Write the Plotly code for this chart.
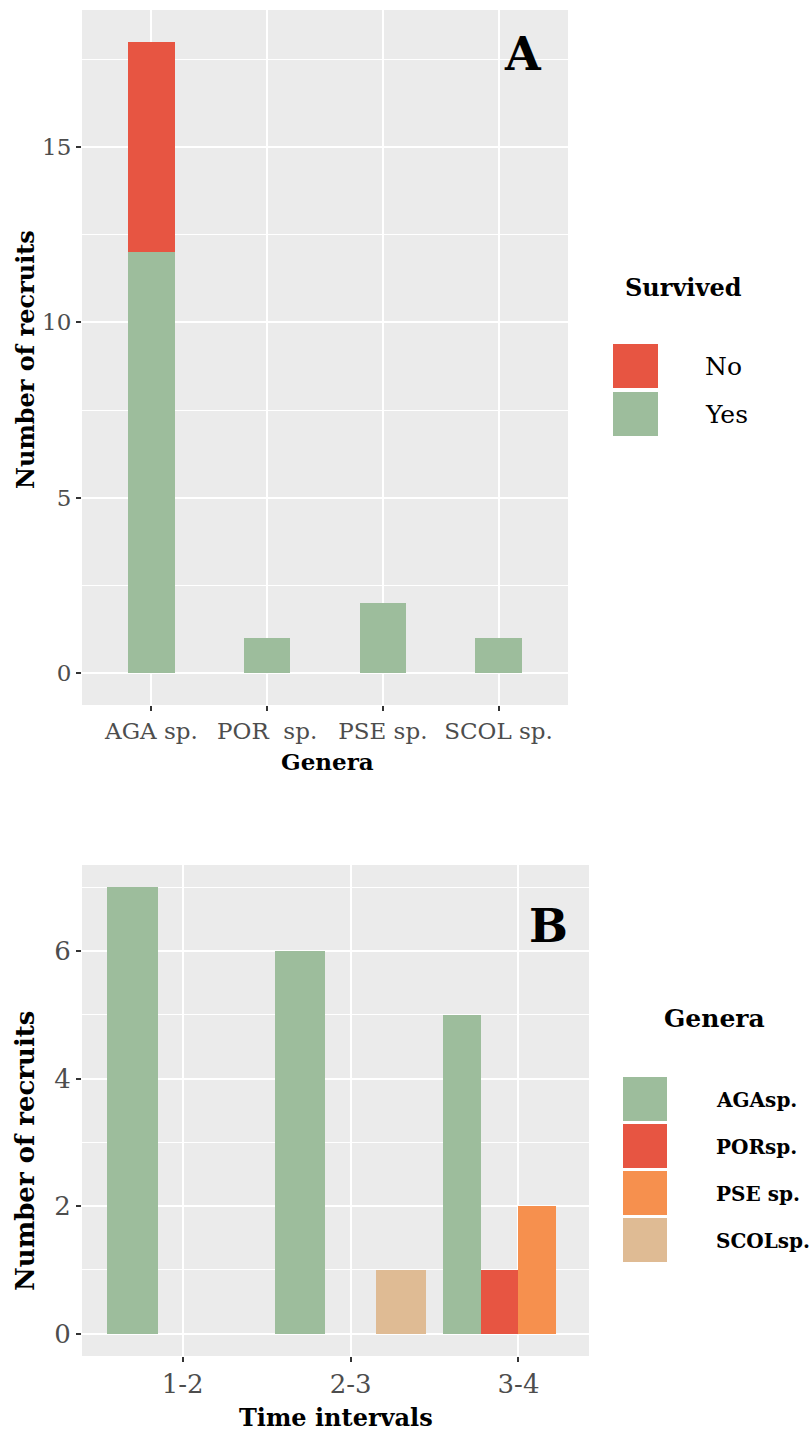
import plotly.graph_objects as go

W, H = 811, 1434

# ---------------- Data ----------------
# Panel A: recruits per genus, split by survival
genera_a = ["AGA sp.", "POR\u00a0 sp.", "PSE sp.", "SCOL sp."]
survived_yes = [12, 1, 2, 1]
survived_no = [6, 0, 0, 0]
survival_labels = ["No", "Yes"]

# Panel B: recruits per time interval and genus (None = no row in data)
intervals = ["1-2", "2-3", "3-4"]
genera_b = ["AGAsp.", "PORsp.", "PSE sp.", "SCOLsp."]
aga_b = [7, 6, 5]
por_b = [0, 0, 1]
pse_b = [0, None, 2]
scol_b = [None, 1, 0]

# ---------------- Style ----------------
GREEN = "#9dbd9c"
RED = "#e75542"
ORANGE = "#f6904e"
TAN = "#dfbb94"
PANEL = "#ebebeb"
TICKC = "#4d4d4d"
SERIF = "DejaVu Serif"

colors_b = [GREEN, RED, ORANGE, TAN]


def px_x(p):
    return p / W


def px_y(p):
    return 1 - p / H


fig = go.Figure()

# Panel A (overlay with explicit base for stacking)
fig.add_trace(go.Bar(x=genera_a, y=survived_yes, width=0.4, marker=dict(color=GREEN, line_width=0),
                     name="Yes", xaxis="x", yaxis="y", showlegend=False))
fig.add_trace(go.Bar(x=genera_a, y=survived_no, base=survived_yes, width=0.4,
                     marker=dict(color=RED, line_width=0), name="No", xaxis="x", yaxis="y",
                     showlegend=False))

# Panel B: dodge like ggplot (slots per interval based on rows present)
series_b = [aga_b, por_b, pse_b, scol_b]
offsets = [[0] * len(intervals) for _ in series_b]
widths = [[0] * len(intervals) for _ in series_b]
for i in range(len(intervals)):
    present = [s for s in range(len(series_b)) if series_b[s][i] is not None]
    n = len(present)
    w = 0.9 / n
    for rank, s in enumerate(present):
        offsets[s][i] = -0.45 + rank * w
        widths[s][i] = w

for s, vals in enumerate(series_b):
    fig.add_trace(go.Bar(x=intervals, y=vals, offset=offsets[s], width=widths[s],
                         marker=dict(color=colors_b[s], line_width=0), name=genera_b[s],
                         xaxis="x2", yaxis="y2", showlegend=False))

tickfont_a = dict(family=SERIF, size=23, color=TICKC)
tickfont_b = dict(family=SERIF, size=26, color=TICKC)

common_x = dict(type="category", showgrid=True, gridcolor="white", gridwidth=2, zeroline=False,
                ticks="outside", ticklen=5, tickwidth=1.5, tickcolor="#333", showline=False)
common_y = dict(showgrid=True, gridcolor="white", gridwidth=2, zeroline=False,
                ticks="outside", ticklen=5, tickwidth=1.5, tickcolor="#333", showline=False)

fig.update_layout(
    width=W, height=H,
    margin=dict(l=0, r=0, t=0, b=0),
    paper_bgcolor="white", plot_bgcolor=PANEL,
    barmode="overlay", bargap=0,
    xaxis=dict(domain=[px_x(82), px_x(568)], anchor="y", range=[-0.6, 3.6],
               tickfont=tickfont_a, **common_x),
    yaxis=dict(domain=[px_y(705), px_y(10)], anchor="x", range=[-0.9, 18.9],
               tick0=0, dtick=5, tickfont=tickfont_a,
               minor=dict(dtick=2.5, tick0=0, showgrid=True, gridcolor="white", gridwidth=1, ticks=""),
               **common_y),
    xaxis2=dict(domain=[px_x(82), px_x(589)], anchor="y2", range=[-0.6, 2.42],
                tickfont=tickfont_b, **common_x),
    yaxis2=dict(domain=[px_y(1356), px_y(865)], anchor="x2", range=[-0.35, 7.35],
                tick0=0, dtick=2, tickfont=tickfont_b,
                minor=dict(dtick=1, tick0=0, showgrid=True, gridcolor="white", gridwidth=1, ticks=""),
                **common_y),
)

ann = []


def text(t, x, y, size, bold=False, angle=0, xanchor="center", family=SERIF, color="black"):
    ann.append(dict(text=f"<b>{t}</b>" if bold else t, x=px_x(x), y=px_y(y), xref="paper", yref="paper",
                    showarrow=False, textangle=angle, xanchor=xanchor, yanchor="middle",
                    font=dict(family=family, size=size, color=color)))


# Panel letters
text("A", 523, 54, 46, bold=True)
text("B", 548, 926, 46, bold=True)

# Axis titles
text("Number of recruits", 25, 360, 24, bold=True, angle=-90)
text("Genera", 327, 761, 23, bold=True)
text("Number of recruits", 25, 1151, 26, bold=True, angle=-90)
text("Time intervals", 336, 1417, 24, bold=True)

# Legend A
text("Survived", 683, 288, 24, bold=True)
shapes = []
leg_a_colors = [RED, GREEN]
for k, (lab, col) in enumerate(zip(survival_labels, leg_a_colors)):
    top = 344 + k * 48
    shapes.append(dict(type="rect", xref="paper", yref="paper", x0=px_x(613), x1=px_x(658),
                       y0=px_y(top + 44), y1=px_y(top), fillcolor=col, line_width=0))
    text(lab, 703, top + 23, 25, xanchor="left")

# Legend B
text("Genera", 714, 1018, 25, bold=True)
for k, (lab, col) in enumerate(zip(genera_b, colors_b)):
    top = 1077 + k * 47
    shapes.append(dict(type="rect", xref="paper", yref="paper", x0=px_x(623), x1=px_x(667),
                       y0=px_y(top + 44), y1=px_y(top), fillcolor=col, line_width=0))
    text(lab, 714, top + 23, 20, bold=True, xanchor="left")

fig.update_layout(annotations=ann, shapes=shapes)

fig.write_html("out.html", config={"displayModeBar": False},
               post_script="document.body.style.margin='0px';")
